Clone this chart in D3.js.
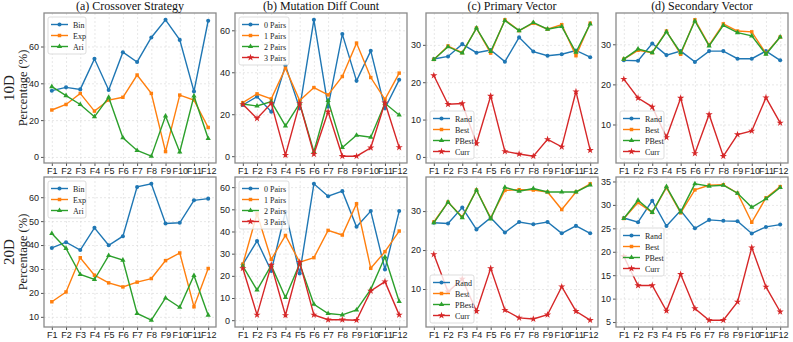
<!DOCTYPE html>
<html>
<head>
<meta charset="utf-8">
<script src="https://cdn.jsdelivr.net/npm/d3@7"></script>
<style>
  body { margin: 0; background: #fff; }
  svg { font-family: "Liberation Serif", "DejaVu Serif", serif; }
</style>
</head>
<body>
<script>
// categories
var funcs = ['F1', 'F2', 'F3', 'F4', 'F5', 'F6', 'F7', 'F8', 'F9', 'F10', 'F11', 'F12']
var crossNames = ['Bin', 'Exp', 'Ari']
var diffNames = ['0 Pairs', '1 Pairs', '2 Pairs', '3 Pairs']
var vecNames = ['Rand', 'Best', 'PBest', 'Curr']
var titles = ['(a) Crossover Strategy', '(b) Mutation Diff Count', '(c) Primary Vector', '(d) Secondary Vector']
var rowLabels = ['10D', '20D']

// 10D values (%)
var cross10 = [
  [36.0, 37.8, 36.7, 53.3, 36.4, 56.9, 51.6, 64.9, 74.5, 63.6, 35.6, 74.0],
  [25.5, 28.5, 34.5, 24.9, 30.9, 32.4, 44.5, 34.5, 2.9, 33.6, 30.9, 16.0],
  [38.2, 33.3, 28.5, 21.8, 32.4, 10.4, 3.5, 0.4, 22.2, 2.7, 33.1, 10.0]
]
var diff10 = [
  [24.4, 28.4, 21.2, 43.2, 22.8, 65.0, 23.6, 58.2, 35.9, 50.2, 22.8, 36.4],
  [25.5, 29.7, 27.3, 41.9, 26.5, 32.7, 29.2, 38.0, 53.9, 37.5, 27.1, 39.6],
  [24.9, 23.9, 26.0, 14.4, 25.2, 2.1, 26.5, 4.1, 10.0, 9.0, 25.2, 19.6],
  [24.7, 18.0, 25.2, 0.5, 25.2, 1.0, 21.2, 0.0, 0.0, 4.0, 25.5, 4.2]
]
var prim10 = [
  [26.2, 26.9, 30.2, 27.9, 28.6, 25.5, 32.0, 28.2, 27.1, 27.5, 28.5, 26.7],
  [26.1, 29.7, 27.9, 34.5, 27.8, 36.7, 33.8, 35.8, 34.2, 35.4, 27.1, 35.8],
  [26.1, 29.5, 27.8, 34.5, 28.2, 36.5, 33.8, 36.0, 34.2, 34.9, 28.0, 35.6],
  [21.8, 14.1, 14.3, 3.6, 16.3, 1.5, 0.8, 0.2, 4.7, 2.7, 17.5, 1.8]
]
var sec10 = [
  [26.0, 25.9, 30.2, 27.3, 28.3, 25.6, 28.3, 28.3, 26.4, 26.4, 28.3, 26.0],
  [26.3, 28.5, 27.9, 33.3, 27.5, 36.1, 29.8, 35.1, 33.3, 33.1, 27.7, 31.8],
  [26.3, 28.8, 27.9, 33.1, 27.9, 35.8, 29.6, 34.7, 32.9, 32.1, 27.5, 31.8],
  [21.3, 16.6, 14.4, 6.8, 16.6, 2.8, 12.5, 2.1, 7.5, 8.4, 16.7, 10.4]
]

// 20D values (%)
var cross20 = [
  [38.8, 41.2, 37.9, 47.2, 39.9, 43.7, 64.3, 65.6, 49.0, 49.3, 58.7, 59.4],
  [16.3, 20.4, 34.7, 27.4, 24.2, 22.5, 24.5, 26.0, 33.5, 36.7, 14.2, 30.2],
  [44.8, 38.6, 27.7, 25.6, 35.6, 33.7, 11.4, 8.6, 17.9, 14.0, 27.3, 10.7]
]
var diff20 = [
  [25.2, 35.7, 22.2, 48.9, 21.1, 61.5, 55.9, 58.2, 42.1, 49.2, 22.9, 49.2],
  [25.2, 48.0, 27.4, 38.2, 26.2, 28.2, 40.5, 38.4, 52.5, 23.4, 30.9, 40.2],
  [24.4, 13.6, 24.7, 10.2, 25.5, 7.2, 3.0, 2.4, 4.6, 13.9, 28.5, 8.4],
  [23.4, 2.4, 24.9, 2.2, 26.2, 2.4, 0.2, 0.2, 0.0, 13.2, 17.4, 2.4]
]
var prim20 = [
  [27.0, 26.8, 30.9, 25.3, 28.3, 24.5, 27.2, 26.6, 27.2, 24.3, 26.2, 24.3],
  [27.2, 32.3, 28.5, 35.4, 28.3, 35.3, 35.5, 35.4, 34.9, 30.4, 34.9, 37.0],
  [27.0, 32.3, 28.3, 35.4, 28.0, 36.1, 35.1, 35.8, 34.9, 34.9, 34.9, 36.7],
  [18.9, 9.3, 12.6, 4.3, 15.3, 4.6, 2.6, 2.3, 3.4, 10.6, 4.3, 2.0]
]
var sec20 = [
  [27.2, 26.3, 30.9, 25.5, 28.8, 25.0, 26.8, 26.6, 26.5, 23.9, 25.3, 25.8],
  [27.1, 30.5, 28.4, 33.7, 28.3, 33.2, 34.2, 34.3, 32.5, 26.3, 31.5, 33.9],
  [27.1, 31.0, 28.4, 33.9, 28.5, 34.5, 34.0, 34.2, 32.5, 29.5, 31.3, 33.7],
  [19.0, 12.8, 12.8, 7.4, 15.2, 7.9, 5.4, 5.4, 9.3, 20.9, 12.5, 7.2]
]

// y tick labels per panel
var ticks10 = [[0, 20, 40, 60], [0, 20, 40, 60], [0, 10, 20, 30], [10, 20, 30]]
var ticks20 = [[10, 20, 30, 40, 50, 60], [0, 10, 20, 30, 40, 50, 60], [10, 20, 30], [5, 10, 15, 20, 25, 30, 35]]

var colors = ['#1f77b4', '#ff7f0e', '#2ca02c', '#d62728']
var shapes = [d3.symbolCircle, d3.symbolSquare, d3.symbolTriangle, d3.symbolStar]
var shapeSize = [13, 12, 12, 16]

var W = 793, H = 342
var lefts = [44, 235, 426, 616]
var tops = [13, 177]
var pw = 172, ph = 150

var svg = d3.select('body').append('svg')
  .attr('width', W).attr('height', H)

var rows = [
  { data: [cross10, diff10, prim10, sec10], ticks: ticks10, legend: ['tl', 'tl', 'bl', 'bl'] },
  { data: [cross20, diff20, prim20, sec20], ticks: ticks20, legend: ['tl', 'tl', 'bl', 'cl'] }
]
var names = [crossNames, diffNames, vecNames, vecNames]

rows.forEach(function (row, r) {
  row.data.forEach(function (series, c) {
    drawPanel(lefts[c], tops[r], series, names[c], row.ticks[c], row.legend[c], r === 0 ? titles[c] : null)
  })
  // row label
  var cy = tops[r] + ph / 2
  svg.append('text')
    .attr('transform', 'translate(14,' + cy + ') rotate(-90)')
    .attr('text-anchor', 'middle')
    .attr('font-size', 15)
    .attr('fill', '#222')
    .text(rowLabels[r])
  svg.append('text')
    .attr('transform', 'translate(27,' + cy + ') rotate(-90)')
    .attr('text-anchor', 'middle')
    .attr('font-size', 12.5)
    .attr('fill', '#222')
    .text('Percentage (%)')
})

function drawPanel (x0, y0, series, labels, yt, legendPos, title) {
  var all = d3.merge(series)
  var ext = d3.extent(all)
  var pad = (ext[1] - ext[0]) * 0.05

  var x = d3.scaleLinear().domain([-0.55, funcs.length - 1 + 0.55]).range([0, pw])
  var y = d3.scaleLinear().domain([ext[0] - pad, ext[1] + pad]).range([ph, 0])

  var g = svg.append('g').attr('transform', 'translate(' + x0 + ',' + y0 + ')')

  // grid
  g.append('g')
    .call(d3.axisBottom(x).tickValues(d3.range(funcs.length)).tickSize(-ph).tickFormat(''))
    .attr('transform', 'translate(0,' + ph + ')')
    .call(function (s) { s.select('.domain').remove() })
    .selectAll('line').attr('stroke', '#d8d8d8').attr('stroke-dasharray', '2,2').attr('stroke-width', 0.6)
  g.append('g')
    .call(d3.axisLeft(y).tickValues(yt).tickSize(-pw).tickFormat(''))
    .call(function (s) { s.select('.domain').remove() })
    .selectAll('line').attr('stroke', '#d8d8d8').attr('stroke-dasharray', '2,2').attr('stroke-width', 0.6)

  // axes
  var xa = g.append('g')
    .attr('transform', 'translate(0,' + ph + ')')
    .call(d3.axisBottom(x).tickValues(d3.range(funcs.length)).tickSize(3).tickPadding(2)
      .tickFormat(function (i) { return funcs[i] }))
  var ya = g.append('g')
    .call(d3.axisLeft(y).tickValues(yt).tickSize(3).tickPadding(2))
  ;[xa, ya].forEach(function (a) {
    a.select('.domain').remove()
    a.selectAll('line').attr('stroke', '#555')
    a.selectAll('text').attr('font-family', null).attr('font-size', 9).attr('fill', '#222')
  })

  // frame
  g.append('rect')
    .attr('width', pw).attr('height', ph)
    .attr('fill', 'none').attr('stroke', '#8a8a8a').attr('stroke-width', 1.3)

  // lines
  var line = d3.line()
    .x(function (d, i) { return x(i) })
    .y(function (d) { return y(d) })

  series.forEach(function (s, k) {
    g.append('path')
      .datum(s)
      .attr('d', line)
      .attr('fill', 'none')
      .attr('stroke', colors[k])
      .attr('stroke-width', 1.4)
    g.selectAll(null)
      .data(s)
      .enter().append('path')
      .attr('transform', function (d, i) {
        return 'translate(' + x(i) + ',' + y(d) + ')'
      })
      .attr('d', d3.symbol().type(shapes[k]).size(shapeSize[k]))
      .attr('fill', colors[k])
  })

  // legend
  var n = labels.length
  var rowH = 11
  var lw = n === 4 && labels[0].indexOf('Pairs') >= 0 ? 50 : (n === 4 ? 44 : 38)
  var lh = n * rowH + 4
  var ly
  if (legendPos === 'tl') ly = 4
  else if (legendPos === 'bl') ly = ph - lh - 4
  else ly = (ph - lh) / 2
  var lg = g.append('g').attr('transform', 'translate(4,' + ly + ')')
  lg.append('rect')
    .attr('width', lw).attr('height', lh).attr('rx', 2)
    .attr('fill', 'rgba(255,255,255,0.8)').attr('stroke', '#d4d4d4').attr('stroke-width', 0.8)
  labels.forEach(function (lab, k) {
    var yy = 7.5 + k * rowH
    lg.append('line')
      .attr('x1', 3).attr('x2', 20).attr('y1', yy).attr('y2', yy)
      .attr('stroke', colors[k]).attr('stroke-width', 1.4)
    lg.append('path')
      .attr('transform', 'translate(11.5,' + yy + ')')
      .attr('d', d3.symbol().type(shapes[k]).size(shapeSize[k]))
      .attr('fill', colors[k])
    lg.append('text')
      .attr('x', 25).attr('y', yy + 3)
      .attr('font-size', 8)
      .attr('fill', '#222')
      .text(lab)
  })

  if (title) {
    g.append('text')
      .attr('x', pw / 2).attr('y', -3)
      .attr('text-anchor', 'middle')
      .attr('font-size', 12)
      .attr('fill', '#111')
      .text(title)
  }
}
</script>
</body>
</html>
